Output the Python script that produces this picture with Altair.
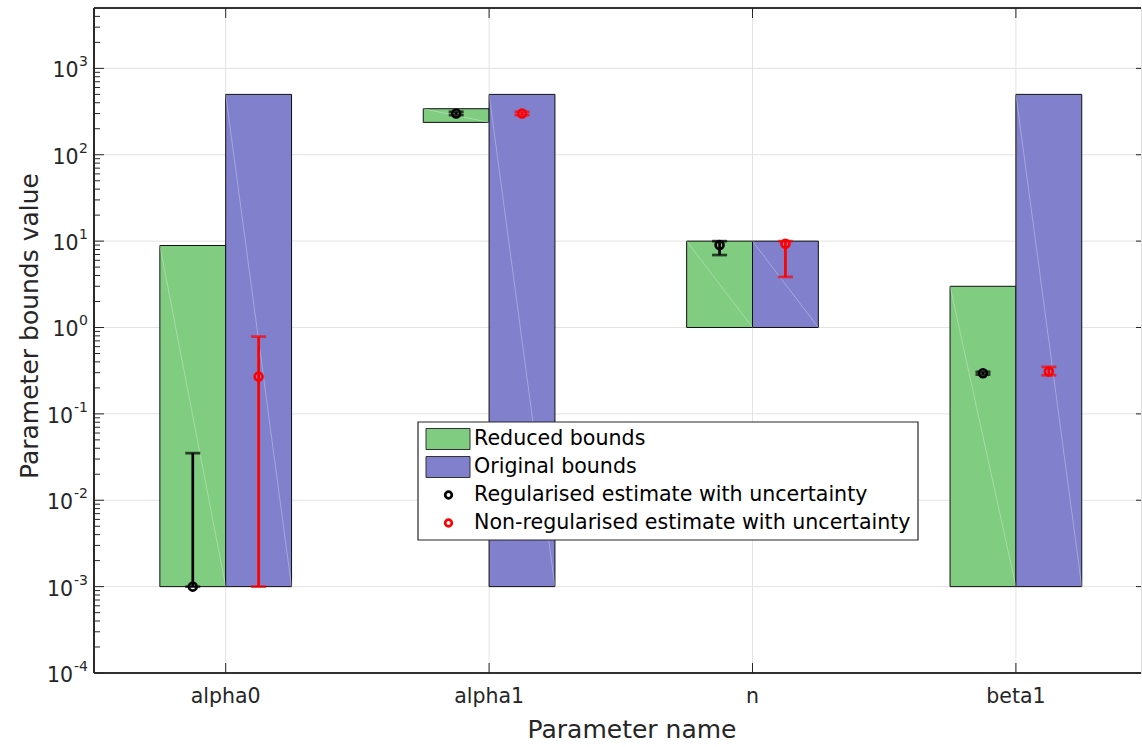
import altair as alt
import pandas as pd
import numpy as np

# ---------------- data ----------------
names = ["alpha0", "alpha1", "n", "beta1"]
reduced_low = [1e-3, 237, 1, 1e-3]
reduced_high = [8.9, 341, 10, 3]
original_low = [1e-3, 1e-3, 1, 1e-3]
original_high = [500, 500, 10, 500]

reg_est = [1e-3, 301, 9.0, 0.296]
reg_low = [1e-3, 288, 6.9, 0.285]
reg_high = [0.0351, 314, 10.0, 0.307]

nonreg_est = [0.27, 301, 9.3, 0.31]
nonreg_low = [1e-3, 288, 3.85, 0.28]
nonreg_high = [0.785, 314, 10.0, 0.35]

series_names = ["Reduced bounds", "Original bounds",
                "Regularised estimate with uncertainty",
                "Non-regularised estimate with uncertainty"]
colors = ["#80CC80", "#8080CC", "#000000", "#FF0000"]
x_title = "Parameter name"
y_title = "Parameter bounds value"
exponents = [-4, -3, -2, -1, 0, 1, 2, 3]

# ---------------- layout ----------------
W, H = 1047, 665
PAD_L, PAD_T = 94, 8
UNIT = 263.4
XDOM = [0.5, 0.5 + W / UNIT]
YDOM = [1e-4, 5000]
AX = "#262626"
FONT = "DejaVu Sans"
TICK_FS = 20.5
EXP_FS = 14
TITLE_FS = 25
LEG_FS = 20.6

xs = alt.Scale(domain=XDOM, nice=False, zero=False)
ys = alt.Scale(type="log", domain=YDOM, nice=False)

# ---------------- tables ----------------
bar_rows = []
for i, nm in enumerate(names):
    p = i + 1
    bar_rows.append(dict(name=nm, series=series_names[0], x0=p - 0.25, x1=p,
                         lo=reduced_low[i], hi=reduced_high[i]))
    bar_rows.append(dict(name=nm, series=series_names[1], x0=p, x1=p + 0.25,
                         lo=original_low[i], hi=original_high[i]))
bars_df = pd.DataFrame(bar_rows)

est_rows = []
for i, nm in enumerate(names):
    p = i + 1
    est_rows.append(dict(name=nm, series=series_names[2], xp=p - 0.125,
                         est=reg_est[i], lo=reg_low[i], hi=reg_high[i]))
    est_rows.append(dict(name=nm, series=series_names[3], xp=p + 0.125,
                         est=nonreg_est[i], lo=nonreg_low[i], hi=nonreg_high[i]))
est_df = pd.DataFrame(est_rows)
caps_df = pd.concat([
    est_df[["xp", "series"]].assign(v=est_df["lo"]),
    est_df[["xp", "series"]].assign(v=est_df["hi"]),
])

major = [10.0 ** k for k in exponents]
minor = [m * 10.0 ** k for k in exponents for m in range(2, 10) if m * 10.0 ** k < YDOM[1]]
major_df = pd.DataFrame({"v": major, "k": exponents,
                         "base": ["10"] * len(exponents),
                         "exp": [str(k) for k in exponents]})
minor_df = pd.DataFrame({"v": minor})
cat_df = pd.DataFrame({"p": list(range(1, len(names) + 1)), "name": names})

color_scale = alt.Scale(domain=series_names, range=colors)

# ---------------- grid ----------------
hgrid = alt.Chart(major_df).mark_rule(color="#e3e3e3", strokeWidth=1).encode(
    y=alt.Y("v:Q", scale=ys, axis=None), x=alt.value(0), x2=alt.value(W))
vgrid = alt.Chart(cat_df).mark_rule(color="#e3e3e3", strokeWidth=1).encode(
    x=alt.X("p:Q", scale=xs, axis=None), y=alt.value(0), y2=alt.value(H))

# ---------------- bars ----------------
bars = alt.Chart(bars_df).mark_rect(stroke="#111111", strokeWidth=1).encode(
    x=alt.X("x0:Q", scale=xs, axis=None), x2="x1",
    y=alt.Y("lo:Q", scale=ys, axis=None), y2="hi",
    fill=alt.Fill("series:N", scale=color_scale, legend=None))
diag = alt.Chart(bars_df).mark_rule(color="white", opacity=0.3, strokeWidth=1).encode(
    x=alt.X("x0:Q", scale=xs, axis=None), x2="x1",
    y=alt.Y("hi:Q", scale=ys, axis=None), y2="lo")

# ---------------- error bars ----------------
ebar = alt.Chart(est_df).mark_rule(strokeWidth=2.7).encode(
    x=alt.X("xp:Q", scale=xs, axis=None),
    y=alt.Y("lo:Q", scale=ys, axis=None), y2="hi",
    color=alt.Color("series:N", scale=color_scale, legend=None))
caps = alt.Chart(caps_df).mark_tick(orient="horizontal", size=15, thickness=2.7).encode(
    x=alt.X("xp:Q", scale=xs, axis=None),
    y=alt.Y("v:Q", scale=ys, axis=None),
    color=alt.Color("series:N", scale=color_scale, legend=None))
pts = alt.Chart(est_df).mark_point(shape="circle", filled=False, size=62, strokeWidth=2.7, opacity=1).encode(
    x=alt.X("xp:Q", scale=xs, axis=None),
    y=alt.Y("est:Q", scale=ys, axis=None),
    color=alt.Color("series:N", scale=color_scale, legend=None))

# ---------------- axis labels & titles (text) ----------------
EXP_RIGHT = -6
base_neg = alt.Chart(major_df).transform_filter("datum.k < 0").mark_text(
    align="right", baseline="middle", font=FONT, fontSize=TICK_FS, color=AX, dy=3).encode(
    y=alt.Y("v:Q", scale=ys, axis=None), x=alt.value(EXP_RIGHT - 15), text="base:N")
base_pos = alt.Chart(major_df).transform_filter("datum.k >= 0").mark_text(
    align="right", baseline="middle", font=FONT, fontSize=TICK_FS, color=AX, dy=3).encode(
    y=alt.Y("v:Q", scale=ys, axis=None), x=alt.value(EXP_RIGHT - 9.5), text="base:N")
exp_lab = alt.Chart(major_df).mark_text(
    align="right", baseline="middle", font=FONT, fontSize=EXP_FS, color=AX, dy=-6).encode(
    y=alt.Y("v:Q", scale=ys, axis=None), x=alt.value(EXP_RIGHT), text="exp:N")

xlabels = alt.Chart(cat_df).mark_text(align="center", baseline="middle", font=FONT,
                                      fontSize=TICK_FS, color=AX).encode(
    x=alt.X("p:Q", scale=xs, axis=None), y=alt.value(H + 24), text="name:N")
title_df = pd.DataFrame({"t": [x_title, y_title], "k": [0, 1]})
xtitle = alt.Chart(title_df).transform_filter("datum.k == 0").mark_text(
    align="center", baseline="middle", font=FONT, fontSize=TITLE_FS, color=AX).encode(
    x=alt.value(538), y=alt.value(H + 57), text="t:N")
ytitle = alt.Chart(title_df).transform_filter("datum.k == 1").mark_text(
    align="center", baseline="middle", font=FONT, fontSize=TITLE_FS, color=AX, angle=270).encode(
    x=alt.value(-64), y=alt.value(318), text="t:N")

# ---------------- frame & ticks ----------------
top_line = alt.Chart(cat_df).mark_rule(color=AX, strokeWidth=1.2).encode(
    x=alt.value(0), x2=alt.value(W), y=alt.value(0))
bot_line = alt.Chart(cat_df).mark_rule(color=AX, strokeWidth=1.2).encode(
    x=alt.value(0), x2=alt.value(W), y=alt.value(H))
left_line = alt.Chart(cat_df).mark_rule(color=AX, strokeWidth=1.2).encode(
    x=alt.value(0), y=alt.value(0), y2=alt.value(H))

lt_major = alt.Chart(major_df).mark_rule(color=AX).encode(
    y=alt.Y("v:Q", scale=ys, axis=None), x=alt.value(0), x2=alt.value(10))
lt_minor = alt.Chart(minor_df).mark_rule(color=AX).encode(
    y=alt.Y("v:Q", scale=ys, axis=None), x=alt.value(0), x2=alt.value(6))
rt_major = alt.Chart(major_df).mark_rule(color=AX).encode(
    y=alt.Y("v:Q", scale=ys, axis=None), x=alt.value(W - 5), x2=alt.value(W))
top_ticks = alt.Chart(cat_df).mark_rule(color=AX).encode(
    x=alt.X("p:Q", scale=xs, axis=None), y=alt.value(0), y2=alt.value(10))
bot_ticks = alt.Chart(cat_df).mark_rule(color=AX).encode(
    x=alt.X("p:Q", scale=xs, axis=None), y=alt.value(H - 10), y2=alt.value(H))

# ---------------- legend (drawn) ----------------
LX0, LX1, LY0, LY1 = 324, 824, 414, 532
ROW0, ROWH = 431, 28
leg_df = pd.DataFrame({"label": series_names, "row": list(range(4))})
leg_df["ly"] = ROW0 + leg_df["row"] * ROWH
leg_df["ly0"] = leg_df["ly"] - 10.5
leg_df["ly1"] = leg_df["ly"] + 10.5
leg_df["px0"] = 332
leg_df["px1"] = 376
leg_df["pc"] = 354.5
leg_df["tx"] = 380

leg_box = alt.Chart(leg_df).mark_rect(fill="white", stroke=AX, strokeWidth=1.2).encode(
    x=alt.value(LX0), x2=alt.value(LX1), y=alt.value(LY0), y2=alt.value(LY1)).transform_filter("datum.row == 0")
leg_patch = alt.Chart(leg_df).transform_filter("datum.row < 2").mark_rect(stroke="#333333", strokeWidth=1).encode(
    x=alt.X("px0:Q", scale=None), x2="px1",
    y=alt.Y("ly0:Q", scale=None), y2="ly1",
    fill=alt.Fill("label:N", scale=color_scale, legend=None))
leg_pts = alt.Chart(leg_df).transform_filter("datum.row >= 2").mark_point(
    shape="circle", filled=False, size=44, strokeWidth=2.7, opacity=1).encode(
    x=alt.X("pc:Q", scale=None), y=alt.Y("ly:Q", scale=None),
    color=alt.Color("label:N", scale=color_scale, legend=None))
leg_txt = alt.Chart(leg_df).mark_text(align="left", baseline="middle", font=FONT,
                                      fontSize=LEG_FS, color="#000000").encode(
    x=alt.X("tx:Q", scale=None), y=alt.Y("ly:Q", scale=None), text="label:N")

chart = alt.layer(
    hgrid, vgrid, bars, diag, ebar, caps, pts,
    top_line, bot_line, left_line, lt_major, lt_minor, rt_major, top_ticks, bot_ticks,
    base_neg, base_pos, exp_lab, xlabels, xtitle, ytitle,
    leg_box, leg_patch, leg_pts, leg_txt,
).resolve_scale(x="shared", y="shared").properties(
    width=W, height=H,
    autosize=alt.AutoSizeParams(type="none"),
    padding={"left": PAD_L, "top": PAD_T, "right": 1, "bottom": 747 - PAD_T - H},
).configure_view(stroke=None).configure(background="white")

chart.save("out.html", embed_options={"renderer": "svg", "actions": False})
